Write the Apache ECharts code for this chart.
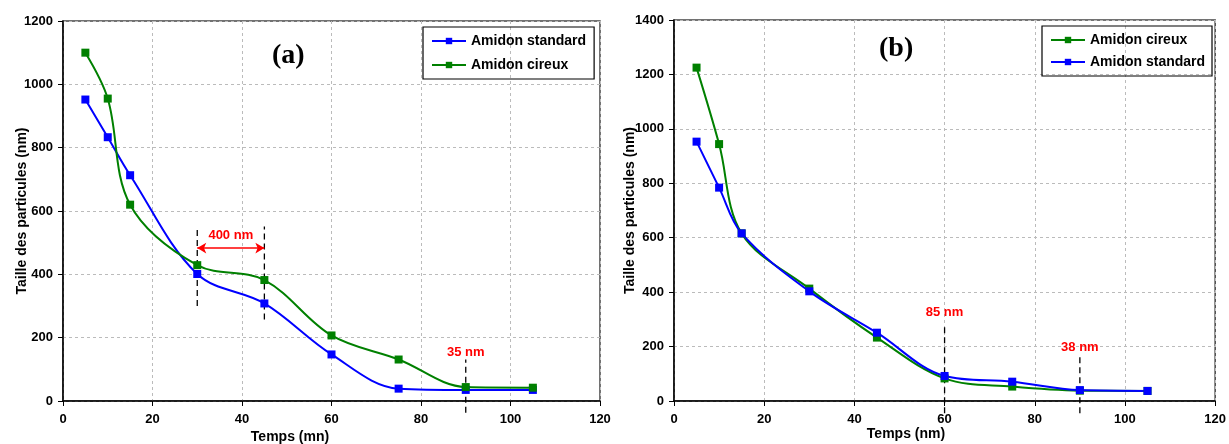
<!DOCTYPE html>
<html><head><meta charset="utf-8">
<script src="https://cdn.jsdelivr.net/npm/echarts@6/dist/echarts.min.js"></script>
<style>html,body{margin:0;padding:0;background:#fff}#c{width:1229px;height:444px}</style>
</head><body><div id="c"></div>
<script>
const times = [5, 10, 15, 30, 45, 60, 75, 90, 105];
const standardA = [952, 833, 713, 401, 308, 147, 39, 35, 35];
const cireuxA = [1100, 955, 620, 429, 382, 207, 131, 44, 42];
const standardB = [953, 784, 616, 403, 251, 92, 71, 40, 37];
const cireuxB = [1225, 944, 616, 413, 233, 83, 53, 38, 37];
// annotation guides: [x, yFrom, yTo]
const guidesA = [[30, 300, 551], [45, 257, 551], [90, -37, 131]];
const guidesB = [[60, -45, 279], [90, -45, 175]];
const arrowA = [[30, 483], [45, 483]];
const labelsA = [[37.5, 523, '400 nm'], [90, 154, '35 nm']];
const labelsB = [[60, 325, '85 nm'], [90, 196, '38 nm']];

const BLUE = '#0000ff', GREEN = '#008000';
const FONT = 'Liberation Sans, Arial, sans-serif';
const pair = (xs, ys) => xs.map((x, i) => [x, ys[i]]);

function xAxis(gi) {
  return {
    type: 'value', gridIndex: gi, min: 0, max: 120, interval: 20,
    axisLine: { lineStyle: { color: '#000', width: 1.5 } },
    axisTick: { show: true, length: 5, lineStyle: { color: '#000' } },
    axisLabel: { margin: 12, fontFamily: FONT, fontWeight: 'bold', fontSize: 13, color: '#000', formatter: v => String(v) },
    splitLine: { show: true, lineStyle: { color: '#bbb', type: [3, 3], width: 1 } }
  };
}
function yAxis(gi, max, gap) {
  return {
    type: 'value', gridIndex: gi, min: 0, max: max, interval: 200,
    name: 'Taille des particules (nm)', nameLocation: 'middle', nameGap: gap,
    nameMoveOverlap: false,
    nameTextStyle: { fontFamily: FONT, fontWeight: 'bold', fontSize: 14, color: '#000' },
    axisLine: { show: true, lineStyle: { color: '#000', width: 1.5 } },
    axisTick: { show: true, length: 5, lineStyle: { color: '#000' } },
    axisLabel: { margin: 10, fontFamily: FONT, fontWeight: 'bold', fontSize: 13, color: '#000', formatter: v => String(v) },
    splitLine: { show: true, lineStyle: { color: '#bbb', type: [3, 3], width: 1 } }
  };
}
function dataSeries(name, color, xs, ys, gi) {
  return {
    name: name, type: 'line', xAxisIndex: gi, yAxisIndex: gi,
    data: pair(xs, ys), smooth: 0.35, symbol: 'rect', symbolSize: 8,
    lineStyle: { color: color, width: 2 }, itemStyle: { color: color },
    z: 5
  };
}
function guideSeries(g, gi) {
  return g.map(d => ({
    type: 'line', xAxisIndex: gi, yAxisIndex: gi, silent: true, clip: false,
    data: [[d[0], d[1]], [d[0], d[2]]], symbol: 'none',
    lineStyle: { color: '#000', width: 1.3, type: [6, 4] }, z: 4
  }));
}
function labelSeries(l, gi) {
  return {
    type: 'scatter', xAxisIndex: gi, yAxisIndex: gi, silent: true, symbolSize: 0,
    data: l.map(d => ({ value: [d[0], d[1]], name: d[2] })),
    label: { show: true, position: 'inside', formatter: p => p.name,
      fontFamily: FONT, fontWeight: 'bold', fontSize: 13, color: '#ff0000', opacity: 1 },
    itemStyle: { opacity: 1 },
    z: 6
  };
}
const chart = echarts.init(document.getElementById('c'), null, { renderer: 'canvas' });
chart.setOption({
  animation: false,
  grid: [
    { left: 63, top: 21, width: 537, height: 380, show: true, borderColor: '#444', borderWidth: 1.5 },
    { left: 674, top: 20, width: 544, height: 381, show: true, borderColor: '#444', borderWidth: 1.5 }
  ],
  xAxis: [xAxis(0), xAxis(1)],
  yAxis: [yAxis(0, 1200, 34), yAxis(1, 1400, 37)],
  legend: [
    { data: ['Amidon standard', 'Amidon cireux'], left: 423, top: 27, orient: 'vertical',
      padding: [7, 8, 7, 8], itemGap: 10, itemWidth: 34, itemHeight: 8,
      borderColor: '#000', borderWidth: 1.2,
      textStyle: { fontFamily: FONT, fontWeight: 'bold', fontSize: 14, color: '#000' } },
    { data: ['Amidon cireux ', 'Amidon standard '], left: 1042, top: 26, orient: 'vertical',
      padding: [7, 3, 7, 8], itemGap: 8, itemWidth: 34, itemHeight: 8,
      borderColor: '#000', borderWidth: 1.2,
      textStyle: { fontFamily: FONT, fontWeight: 'bold', fontSize: 14, color: '#000' } }
  ],
  graphic: [
    { type: 'text', left: 272, top: 42, style: { text: '(a)', font: 'bold 28px "Liberation Serif", "Times New Roman", serif', fill: '#000' } },
    { type: 'text', left: 879, top: 35, style: { text: '(b)', font: 'bold 28px "Liberation Serif", "Times New Roman", serif', fill: '#000' } },
    { type: 'text', x: 290, y: 437, style: { text: 'Temps (mn)', font: 'bold 14px ' + FONT, fill: '#000', align: 'center', verticalAlign: 'middle' } },
    { type: 'text', x: 906, y: 434, style: { text: 'Temps (nm)', font: 'bold 14px ' + FONT, fill: '#000', align: 'center', verticalAlign: 'middle' } }
  ],
  series: [
    dataSeries('Amidon standard', BLUE, times, standardA, 0),
    dataSeries('Amidon cireux', GREEN, times, cireuxA, 0),
    dataSeries('Amidon cireux ', GREEN, times, cireuxB, 1),
    dataSeries('Amidon standard ', BLUE, times, standardB, 1),
    ...guideSeries(guidesA, 0),
    ...guideSeries(guidesB, 1),
    {
      type: 'line', xAxisIndex: 0, yAxisIndex: 0, silent: true, data: [], symbol: 'none',
      markLine: { silent: true, symbol: ['arrow', 'arrow'], symbolSize: [8, 9],
        label: { show: false }, lineStyle: { color: '#ff0000', width: 1.5, type: 'solid' },
        data: [[{ coord: arrowA[0] }, { coord: arrowA[1] }]] }
    },
    labelSeries(labelsA, 0),
    labelSeries(labelsB, 1)
  ]
});
</script></body></html>
